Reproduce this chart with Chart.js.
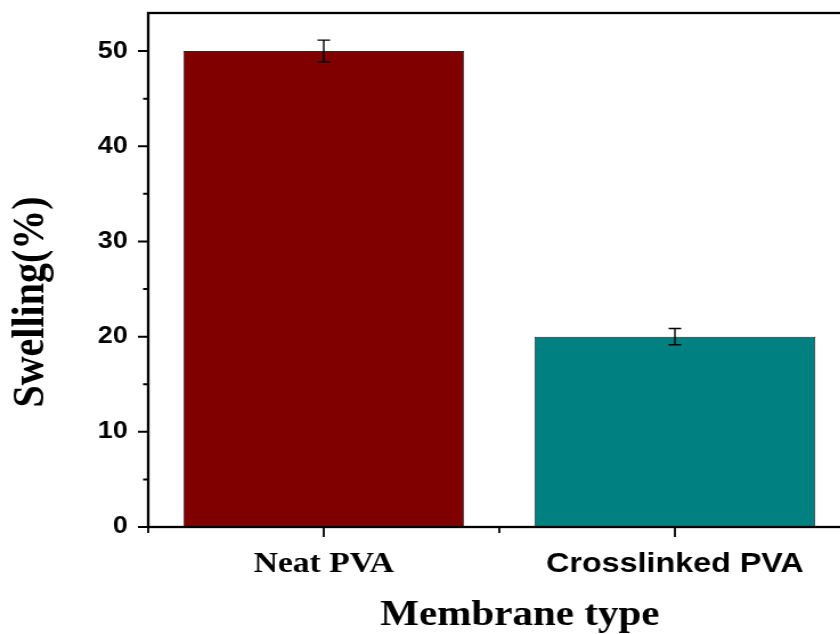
<!DOCTYPE html>
<html>
<head>
<meta charset="utf-8">
<script src="https://cdn.jsdelivr.net/npm/chart.js@4"></script>
<style>
  html, body { margin: 0; padding: 0; background: #fff; overflow: hidden; }
</style>
</head>
<body>
<!-- the original figure is a bit stretched sideways, so the canvas is too -->
<canvas id="chart" width="750" height="634" style="display:block;width:855px;height:634px"></canvas>
<script>
const categories = ['Neat PVA', 'Crosslinked PVA'];
const swelling = [50, 20];
const swellingErr = [1.15, 0.85];
const barColors = ['#800000', '#008080'];
const yMajor = [0, 10, 20, 30, 40, 50];
const yMinor = [5, 15, 25, 35, 45];
const yMax = 54;

const serif = '"Liberation Serif", "Times New Roman", serif';
const sans = '"Liberation Sans", Arial, sans-serif';

// Frame, ticks, error bars and axis titles
const extras = {
  id: 'extras',
  afterDatasetsDraw(chart) {
    const { ctx, chartArea: a, scales: { x, y } } = chart;
    ctx.save();
    ctx.strokeStyle = '#000';

    // error bars
    ctx.lineWidth = 1.4;
    swelling.forEach((v, i) => {
      const px = x.getPixelForValue(i);
      const top = y.getPixelForValue(v + swellingErr[i]);
      const bot = y.getPixelForValue(v - swellingErr[i]);
      ctx.beginPath();
      ctx.moveTo(px, top); ctx.lineTo(px, bot);
      ctx.moveTo(px - 5.5, top); ctx.lineTo(px + 5.5, top);
      ctx.moveTo(px - 5.5, bot); ctx.lineTo(px + 5.5, bot);
      ctx.stroke();
    });

    // axes box
    ctx.lineWidth = 2.3;
    ctx.strokeRect(a.left, a.top, a.right - a.left, a.bottom - a.top);

    // y ticks, pointing out
    ctx.lineWidth = 2;
    ctx.beginPath();
    yMajor.forEach(v => {
      const py = y.getPixelForValue(v);
      ctx.moveTo(a.left - 9, py); ctx.lineTo(a.left, py);
    });
    yMinor.forEach(v => {
      const py = y.getPixelForValue(v);
      ctx.moveTo(a.left - 4.5, py); ctx.lineTo(a.left, py);
    });
    ctx.stroke();

    // x ticks: long at categories, short at the edges between them
    ctx.lineWidth = 1.8;
    ctx.beginPath();
    categories.forEach((c, i) => {
      const px = x.getPixelForValue(i);
      ctx.moveTo(px, a.bottom); ctx.lineTo(px, a.bottom + 10);
    });
    for (let i = 0; i <= categories.length; i++) {
      const px = x.getPixelForValue(i - 0.5);
      ctx.moveTo(px, a.bottom); ctx.lineTo(px, a.bottom + 6);
    }
    ctx.stroke();

    // axis titles
    ctx.fillStyle = '#000';
    ctx.textAlign = 'center';
    ctx.textBaseline = 'alphabetic';
    ctx.font = `bold 36px ${serif}`;
    ctx.fillText('Membrane type', 456, 625);

    ctx.translate(37.5, 302);
    ctx.rotate(-Math.PI / 2);
    ctx.font = `bold 40px ${serif}`;
    ctx.fillText('Swelling(%)', 0, 0);
    ctx.restore();
  }
};

new Chart(document.getElementById('chart'), {
  type: 'bar',
  data: {
    labels: categories,
    datasets: [{
      data: swelling,
      backgroundColor: barColors,
      borderColor: '#2a2a2a',
      borderWidth: 1,
      categoryPercentage: 1,
      barPercentage: 0.8,
    }]
  },
  options: {
    responsive: false,
    devicePixelRatio: 1,
    animation: false,
    layout: { padding: { top: 13, right: 4, left: 0, bottom: 0 } },
    plugins: {
      legend: { display: false },
      tooltip: { enabled: false },
    },
    scales: {
      x: {
        grid: { display: false, drawTicks: false },
        border: { display: false },
        ticks: {
          color: '#000',
          padding: 20,
          maxRotation: 0,
          font: c => c.index === 0
            ? { family: serif, size: 29.5, weight: 'bold' }
            : { family: sans, size: 28.3, weight: 'bold' },
        },
        afterFit: s => { s.height = 107; s.paddingLeft = 0; s.paddingRight = 0; },
      },
      y: {
        min: 0,
        max: yMax,
        grid: { display: false, drawTicks: false },
        border: { display: false },
        ticks: {
          color: '#000',
          padding: 18,
          font: { family: sans, size: 23.5, weight: 'bold' },
        },
        afterBuildTicks: s => { s.ticks = yMajor.map(v => ({ value: v })); },
        afterFit: s => { s.width = 130; s.paddingTop = 0; s.paddingBottom = 0; },
      }
    }
  },
  plugins: [extras]
});
</script>
</body>
</html>
